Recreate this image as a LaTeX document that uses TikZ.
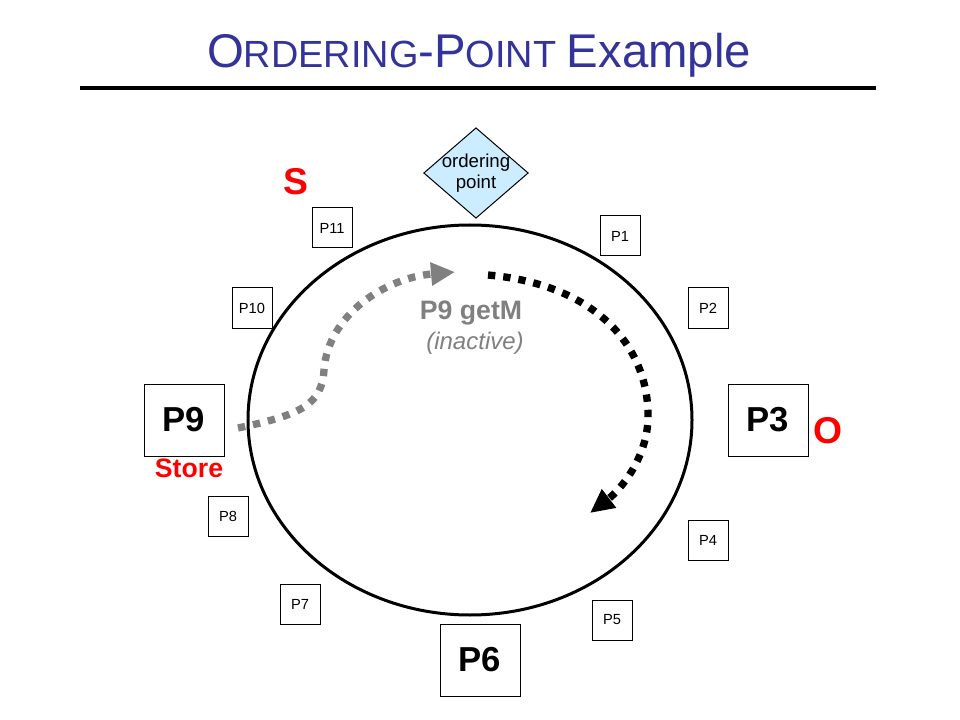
\documentclass[tikz,border=0pt]{standalone}
\usepackage{fontspec}
\setmainfont{Liberation Sans}
\usepackage{tikz}
\usetikzlibrary{shapes.geometric,arrows.meta}
\usepackage{color}
\definecolor{titleblue}{RGB}{51,51,153}
\definecolor{opblue}{RGB}{204,236,255}
\definecolor{movegray}{RGB}{128,128,128}
\tikzset{
  proc/.style={draw,line width=0.75pt,minimum width=30pt,minimum height=30pt,inner sep=0pt,font=\fontsize{11}{13}\selectfont},
  bigproc/.style={draw,line width=0.75pt,minimum width=60pt,minimum height=54pt,inner sep=0pt,font=\fontsize{26}{30}\selectfont\bfseries},
  marker/.style={text=red,font=\fontsize{28}{32}\selectfont\bfseries},
  request/.style={line width=5.5pt,dash pattern=on 5.5pt off 6pt,-{Triangle[length=18pt,width=16.5pt]}}
}
\begin{document}
\begin{tikzpicture}[x=0.75pt,y=-0.75pt]
\path[use as bounding box,fill=white] (0,0) rectangle (960,720);
\node[anchor=base,text=titleblue,inner sep=0pt] (title) at (479,68) {\fontsize{35.5}{42}\selectfont O\fontsize{28.4}{34}\selectfont RDERING\fontsize{35.5}{42}\selectfont -P\fontsize{28.4}{34}\selectfont OINT \fontsize{35.5}{42}\selectfont Example};
\draw[line width=3pt] (80,88) -- (876,88);
\draw[line width=2.25pt] (470,420) ellipse [x radius=222, y radius=195];
\node[diamond,draw,line width=0.75pt,fill=opblue,aspect=1.156,inner sep=-1.5pt,align=center,font=\fontsize{14}{16}\selectfont] (order) at (476,173) {ordering\\point};
\node[proc] (P1) at (620,236) {P1};
\node[proc] (P2) at (708,308) {P2};
\node[bigproc] (P3) at (768,420) {P3};
\node[proc] (P4) at (708,540) {P4};
\node[proc] (P5) at (612,620) {P5};
\node[bigproc] (P6) at (480,660) {P6};
\node[proc] (P7) at (300,604) {P7};
\node[proc] (P8) at (228,516) {P8};
\node[bigproc] (P9) at (184,420) {P9};
\node[proc] (P10) at (252,308) {P10};
\node[proc] (P11) at (332,228) {P11};
\node[marker] (S) at (296,182) {S};
\node[marker] (O) at (828,431) {O};
\node[text=red,font=\fontsize{20}{24}\selectfont\bfseries] (store) at (189,468) {Store};
\node[text=movegray,font=\fontsize{20}{24}\selectfont\bfseries] (getM) at (471,313) {P9 getM};
\node[text=movegray,font=\fontsize{18}{22}\selectfont\itshape] (inactive) at (475,343) {(inactive)};
\coordinate (req from) at (238,428);
\coordinate (req to) at (455,272);
\coordinate (fwd from) at (488,275);
\coordinate (fwd to) at (590,513);
\draw[request,movegray] (req from) .. controls (300,415) and (322,405) .. (324,370) .. controls (328,315) and (385,278) .. (req to);
\draw[request,black] (fwd from) .. controls (600,285) and (650,350) .. (648,420) .. controls (646,460) and (620,490) .. (fwd to);
\end{tikzpicture}
\end{document}
